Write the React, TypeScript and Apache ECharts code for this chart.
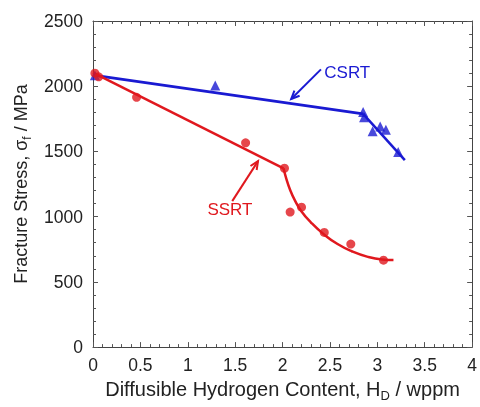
import React, { useEffect, useRef } from "react";
import * as echarts from "echarts";

// Measured points (H_D in wppm, fracture stress in MPa)
const csrtPoints: number[][] = [
  [0.02, 2085], [1.29, 2005], [2.85, 1803], [2.86, 1763],
  [2.95, 1655], [3.03, 1692], [3.09, 1667], [3.22, 1495],
];
const ssrtPoints: number[][] = [
  [0.02, 2100], [0.06, 2072], [0.46, 1915], [1.61, 1566], [2.02, 1371],
  [2.08, 1035], [2.2, 1073], [2.44, 879], [2.72, 790], [3.065, 666],
];
// Fitted trend lines
const csrtFit1: number[][] = [[0, 2085], [2.85, 1788]];
const csrtFit2: number[][] = [[2.85, 1788], [3.29, 1434]];
const ssrtFit1: number[][] = [[0, 2105], [2.01, 1371]];
const ssrtFit2: number[][] = [
  [2.01, 1371], [2.04, 1290], [2.08, 1205], [2.13, 1125], [2.2, 1040], [2.3, 955],
  [2.43, 868], [2.58, 790], [2.73, 735], [2.9, 692], [3.05, 672], [3.17, 668],
];
// Annotations (data coordinates)
const csrtArrow = { tail: [2.405, 2129], head: [2.091, 1902], label: [2.44, 2106], text: "CSRT" };
const ssrtArrow = { tail: [1.469, 1119], head: [1.741, 1426], label: [1.445, 1057], text: "SSRT" };

const BLUE = "#1a1ad2";
const RED = "#e0181e";
const FONT = '"Liberation Sans", Arial, Helvetica, sans-serif';

export default function App() {
  const ref = useRef<HTMLDivElement>(null);
  useEffect(() => {
    const el = ref.current!;
    const chart = echarts.init(el, null, { renderer: "svg" });
    const axisCommon = {
      type: "value" as const,
      axisLine: { show: true, onZero: false, lineStyle: { color: "#444", width: 1 } },
      axisTick: { show: true, inside: true, length: 5, lineStyle: { color: "#555" } },
      minorTick: { show: true, splitNumber: 5, length: 3, lineStyle: { color: "#555" } },
      splitLine: { show: false },
      minorSplitLine: { show: false },
    };
    const labelStyle = {
      color: "#222", fontSize: 17.5, fontFamily: FONT,
      formatter: (v: number) => String(v),
    };
    const option: any = {
      animation: false,
      textStyle: { fontFamily: FONT },
      grid: { left: 93, top: 21, right: 5, bottom: 56, containLabel: false },
      xAxis: [
        {
          ...axisCommon,
          position: "bottom",
          min: 0, max: 4, interval: 0.5,
          axisLabel: { ...labelStyle, margin: 9 },
          name: "{a|Diffusible Hydrogen Content, H}{sub|D}{a| / wppm}",
          nameLocation: "middle",
          nameGap: 28,
          nameTextStyle: {
            rich: {
              a: { fontSize: 20, fontFamily: FONT, color: "#222", lineHeight: 26 },
              sub: { fontSize: 13, fontFamily: FONT, color: "#222", lineHeight: 13, verticalAlign: "bottom" },
            },
          },
        },
        {
          ...axisCommon,
          position: "top",
          min: 0, max: 4, interval: 0.5,
          axisLabel: { show: false },
        },
      ],
      yAxis: [
        {
          ...axisCommon,
          position: "left",
          min: 0, max: 2500, interval: 500,
          axisLabel: { ...labelStyle, margin: 10 },
          name: "{a|Fracture Stress, σ}{sub|f}{a| / MPa}",
          nameLocation: "middle",
          nameGap: 56,
          nameRotate: 90,
          nameTextStyle: {
            rich: {
              a: { fontSize: 18, fontFamily: FONT, color: "#222", lineHeight: 24 },
              sub: { fontSize: 12, fontFamily: FONT, color: "#222", lineHeight: 12, verticalAlign: "bottom" },
            },
          },
        },
        {
          ...axisCommon,
          position: "right",
          min: 0, max: 2500, interval: 500,
          axisLabel: { show: false },
        },
      ],
      series: [
        {
          type: "line", data: csrtFit1, showSymbol: false, symbol: "none",
          lineStyle: { color: BLUE, width: 3 }, z: 2,
        },
        {
          type: "line", data: csrtFit2, showSymbol: false, symbol: "none",
          lineStyle: { color: BLUE, width: 2.5 }, z: 2,
        },
        {
          type: "line", data: ssrtFit1, showSymbol: false, symbol: "none",
          lineStyle: { color: RED, width: 2.5 }, z: 2,
        },
        {
          type: "line", data: ssrtFit2, showSymbol: false, symbol: "none",
          smooth: true,
          lineStyle: { color: RED, width: 2.5 }, z: 2,
        },
        {
          name: "CSRT", type: "scatter", data: csrtPoints, symbol: "triangle", symbolSize: 10,
          itemStyle: { color: BLUE }, z: 3,
        },
        {
          name: "SSRT", type: "scatter", data: ssrtPoints, symbol: "circle", symbolSize: 9,
          itemStyle: { color: RED }, z: 4,
        },
      ],
    };
    chart.setOption(option);

    const px = (p: number[]) => chart.convertToPixel({ gridIndex: 0 }, p) as number[];
    const makeArrow = (a: { tail: number[]; head: number[]; label: number[]; text: string }, color: string, align: string) => {
      const t = px(a.tail);
      const h = px(a.head);
      const ang = Math.atan2(t[1] - h[1], t[0] - h[0]);
      const L = 9;
      const s = 0.42;
      const w1 = [h[0] + L * Math.cos(ang + s), h[1] + L * Math.sin(ang + s)];
      const w2 = [h[0] + L * Math.cos(ang - s), h[1] + L * Math.sin(ang - s)];
      const lp = px(a.label);
      return [
        { type: "line", shape: { x1: t[0], y1: t[1], x2: h[0], y2: h[1] }, style: { stroke: color, lineWidth: 2 }, z: 10 },
        { type: "polyline", shape: { points: [w1, h, w2] }, style: { stroke: color, lineWidth: 2, fill: null }, z: 10 },
        {
          type: "text", x: lp[0], y: lp[1], z: 10,
          style: { text: a.text, fill: color, fontSize: 17, fontFamily: FONT, align, verticalAlign: "middle" },
        },
      ];
    };
    chart.setOption({
      graphic: [...makeArrow(csrtArrow, BLUE, "left"), ...makeArrow(ssrtArrow, RED, "center")],
    });
    return () => chart.dispose();
  }, []);
  return <div ref={ref} style={{ position: "fixed", left: 0, top: 0, width: 480, height: 407 }} />;
}
